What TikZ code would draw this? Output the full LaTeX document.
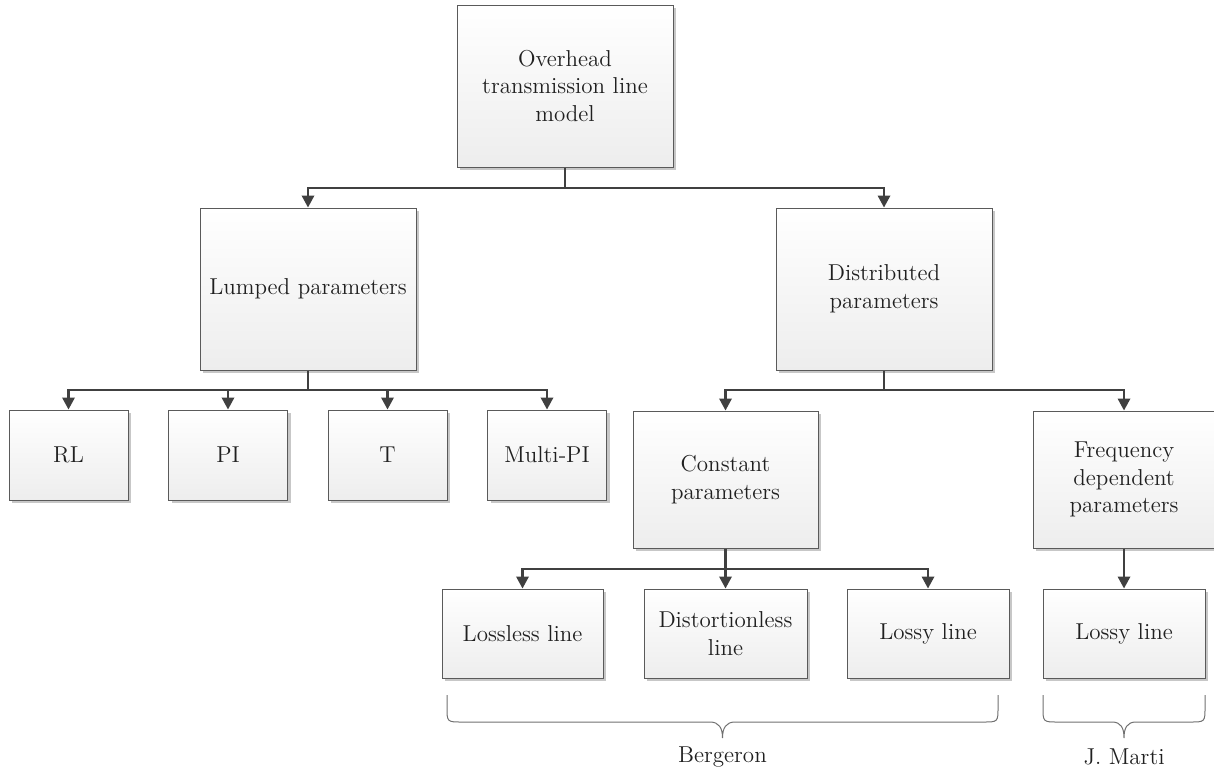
\documentclass[tikz,border=0pt]{standalone}
\usetikzlibrary{arrows.meta,shadows}
\definecolor{linec}{HTML}{404040}
\definecolor{boxborder}{HTML}{5A5A5A}
\definecolor{txt}{HTML}{202020}
\definecolor{bracec}{HTML}{707070}
\tikzset{
  box/.style 2 args={draw=boxborder, line width=0.5pt, rectangle,
    top color=white, bottom color=black!7,
    drop shadow={shadow xshift=1.6pt, shadow yshift=-1.6pt, fill=black!22, opacity=1},
    minimum width=#1*0.5pt, minimum height=#2*0.5pt, inner sep=0pt,
    align=center, text=txt, font=\fontsize{11.5}{13.8}\selectfont},
  conn/.style={draw=linec, line width=1.1pt},
  arr/.style={conn, -{Triangle[length=6pt,width=6.2pt]}},
  bracestyle/.style={draw=bracec, line width=0.5pt},
  lbl/.style={text=txt, font=\fontsize{11.5}{13.8}\selectfont, inner sep=0pt}
}
\begin{document}
\begin{tikzpicture}[x=0.5pt,y=-0.5pt]
\useasboundingbox (0,0) rectangle (1214,771);
% nodes
\node[box={216}{162}] (top) at (565,86) {Overhead\\transmission line\\model};
\node[box={216}{162}] (lumped) at (308,289) {Lumped parameters};
\node[box={216}{162}] (dist) at (884,289) {Distributed\\parameters};
\node[box={119}{90}] (rl) at (68.5,455) {RL};
\node[box={119}{90}] (pi) at (228,455) {PI};
\node[box={119}{90}] (t) at (387.5,455) {T};
\node[box={119}{90}] (mpi) at (547,455) {Multi-PI};
\node[box={185}{137}] (const) at (725.5,479.5) {Constant\\parameters};
\node[box={182}{137}] (freq) at (1124,479.5) {Frequency\\dependent\\parameters};
\node[box={161}{89}] (lossless) at (522.5,633.5) {Lossless line};
\node[box={163}{89}] (distl) at (725.5,633.5) {Distortionless\\line};
\node[box={162}{89}] (lossy) at (928,633.5) {Lossy line};
\node[box={162}{89}] (lossy2) at (1124,633.5) {Lossy line};
% junctions
\coordinate (j1) at (565,188);
\coordinate (j2) at (308,390);
\coordinate (j3) at (884,390);
\coordinate (j4) at (725.5,569);
\draw[conn] (top.south) -- (j1);
\draw[arr] (j1) -| (lumped.north);
\draw[arr] (j1) -| (dist.north);
\draw[conn] (lumped.south) -- (j2);
\draw[arr] (j2) -| (rl.north);
\draw[arr] (j2) -| (pi.north);
\draw[arr] (j2) -| (t.north);
\draw[arr] (j2) -| (mpi.north);
\draw[conn] (dist.south) -- (j3);
\draw[arr] (j3) -| (const.north);
\draw[arr] (j3) -| (freq.north);
\draw[conn] (const.south) -- (j4);
\draw[arr] (j4) -| (lossless.north);
\draw[arr] (j4) -- (distl.north);
\draw[arr] (j4) -| (lossy.north);
\draw[arr] (freq.south) -- (lossy2.north);
% braces
\coordinate (b1l) at (447,695);
\coordinate (b1r) at (998,695);
\coordinate (b1m) at (722.5,738);
\draw[bracestyle] (b1l) -- (447,707) .. controls (447,722) .. (462,722) -- (710,722)
  .. controls (719,722) and (722.5,728) .. (b1m)
  .. controls (722.5,728) and (726,722) .. (735,722) -- (983,722)
  .. controls (998,722) .. (998,707) -- (b1r);
\coordinate (b2l) at (1043,695);
\coordinate (b2r) at (1205,695);
\coordinate (b2m) at (1124,738);
\draw[bracestyle] (b2l) -- (1043,707) .. controls (1043,722) .. (1058,722) -- (1112,722)
  .. controls (1121,722) and (1124,728) .. (b2m)
  .. controls (1124,728) and (1127,722) .. (1136,722) -- (1190,722)
  .. controls (1205,722) .. (1205,707) -- (b2r);
\node[lbl] (berg) at (722.5,757) {Bergeron};
\node[lbl] (marti) at (1124,757) {J. Marti};
\end{tikzpicture}
\end{document}
